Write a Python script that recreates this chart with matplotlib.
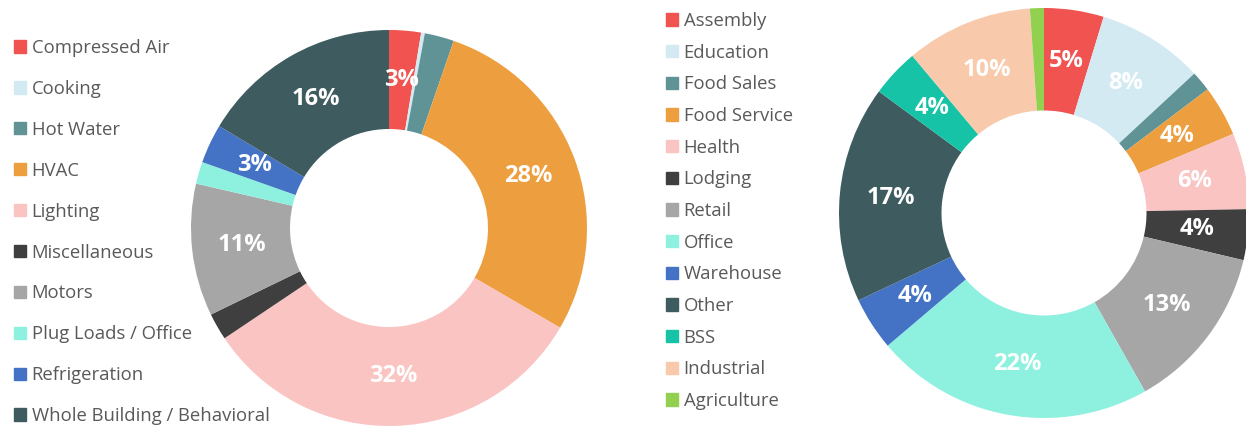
import matplotlib.pyplot as plt
from matplotlib.patches import Patch

plt.rcParams['font.family'] = ['Open Sans', 'DejaVu Sans']

# End use shares (left donut)
end_use_labels = ['Compressed Air', 'Cooking', 'Hot Water', 'HVAC', 'Lighting',
                  'Miscellaneous', 'Motors', 'Plug Loads / Office', 'Refrigeration',
                  'Whole Building / Behavioral']
end_use_values = [2.6, 0.3, 2.4, 28.1, 32.2, 2.2, 10.8, 1.8, 3.2, 16.4]
end_use_colors = ['#F05350', '#D3EAF2', '#5F9396', '#ED9F40', '#F9C4C2',
                  '#3F3F3F', '#A6A6A6', '#8EF1E0', '#4472C4', '#3E5C5F']

# Building sector shares (right donut)
sector_labels = ['Assembly', 'Education', 'Food Sales', 'Food Service', 'Health',
                 'Lodging', 'Retail', 'Office', 'Warehouse', 'Other', 'BSS',
                 'Industrial', 'Agriculture']
sector_values = [4.7, 8.4, 1.6, 4.0, 6.0, 4.0, 13.1, 22.0, 4.2, 17.1, 3.8, 10.0, 1.1]
sector_colors = ['#F05350', '#D3EAF2', '#5F9396', '#ED9F40', '#F9C4C2',
                 '#3F3F3F', '#A6A6A6', '#8EF1E0', '#4472C4', '#3E5C5F',
                 '#17C3A6', '#F8CAAB', '#92D050']


def pct_label(p):
    return f'{p:.0f}%' if p >= 2.5 else ''


def donut(ax, values, colors):
    wedges, _, autotexts = ax.pie(values, colors=colors, startangle=90, counterclock=False,
                                  autopct=pct_label, pctdistance=0.75,
                                  wedgeprops=dict(width=0.5, linewidth=0),
                                  textprops=dict(color='white', fontsize=17, fontweight='bold'))
    ax.set_xlim(-1, 1)
    ax.set_ylim(-1, 1)
    ax.set_aspect('equal')
    return wedges


fig = plt.figure(figsize=(12.46, 4.28), dpi=100)

ax1 = fig.add_axes([191 / 1246, 2 / 428, 396 / 1246, 396 / 428])
donut(ax1, end_use_values, end_use_colors)

ax2 = fig.add_axes([839 / 1246, 10 / 428, 410 / 1246, 410 / 428])
donut(ax2, sector_values, sector_colors)

h1 = [Patch(color=c) for c in end_use_colors]
fig.legend(h1, end_use_labels, loc='upper left', bbox_to_anchor=(14 / 1246, 1 - 39 / 428),
           frameon=False, fontsize=13.3, labelcolor='#595959', borderpad=0, borderaxespad=0,
           handlelength=0.65, handleheight=0.65, handletextpad=0.3, labelspacing=1.24)

h2 = [Patch(color=c) for c in sector_colors]
fig.legend(h2, sector_labels, loc='upper left', bbox_to_anchor=(666 / 1246, 1 - 12 / 428),
           frameon=False, fontsize=13.3, labelcolor='#595959', borderpad=0, borderaxespad=0,
           handlelength=0.65, handleheight=0.65, handletextpad=0.3, labelspacing=0.74)

fig.savefig('out.png', dpi=100)
